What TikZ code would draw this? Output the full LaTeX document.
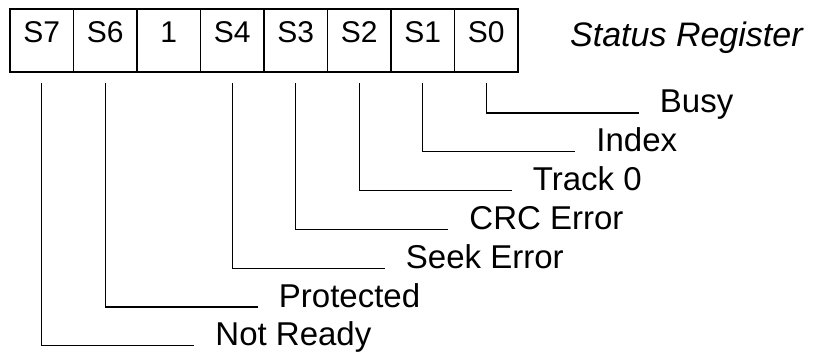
\documentclass[tikz,border=0pt]{standalone}
\usepackage{fontspec}
\setmainfont{Liberation Sans}
\tikzset{
  bitcell/.style={draw, line width=1.3pt, inner sep=0pt, minimum width=63.5pt,
    text height=34pt, text depth=29pt, anchor=base,
    font=\fontsize{30}{30}\selectfont},
  flaglabel/.style={inner sep=0pt, anchor=base west, font=\fontsize{33}{33}\selectfont},
  lead/.style={line width=1.3pt},
}
\begin{document}
\begin{tikzpicture}[x=1pt,y=-1pt]
  \useasboundingbox (0,0) rectangle (818,352);
  % register cells
  \node[bitcell] (s7) at (41.75,43) {S7};
  \node[bitcell] (s6) at (105.25,43) {S6};
  \node[bitcell] (b5) at (168.75,43) {1};
  \node[bitcell] (s4) at (232.25,43) {S4};
  \node[bitcell] (s3) at (295.75,43) {S3};
  \node[bitcell] (s2) at (359.25,43) {S2};
  \node[bitcell] (s1) at (422.75,43) {S1};
  \node[bitcell] (s0) at (486.25,43) {S0};
  \node[flaglabel, font=\fontsize{34}{34}\selectfont\itshape] (title) at (570,47) {Status Register};
  % flag names
  \node[flaglabel] (busy) at (659.75,113) {Busy};
  \node[flaglabel] (index) at (596.25,151.8) {Index};
  \node[flaglabel] (track) at (532.75,190.6) {Track 0};
  \node[flaglabel] (crc) at (469.25,229.4) {CRC Error};
  \node[flaglabel] (seek) at (405.75,268.2) {Seek Error};
  \node[flaglabel] (prot) at (278.75,307) {Protected};
  \node[flaglabel] (ready) at (215.25,345.8) {Not Ready};
  % leads
  \draw[lead] ([yshift=-10pt]s0.south) |- ([xshift=-21pt]busy.base west);
  \draw[lead] ([yshift=-10pt]s1.south) |- ([xshift=-21pt]index.base west);
  \draw[lead] ([yshift=-10pt]s2.south) |- ([xshift=-21pt]track.base west);
  \draw[lead] ([yshift=-10pt]s3.south) |- ([xshift=-21pt]crc.base west);
  \draw[lead] ([yshift=-10pt]s4.south) |- ([xshift=-21pt]seek.base west);
  \draw[lead] ([yshift=-10pt]s6.south) |- ([xshift=-21pt]prot.base west);
  \draw[lead] ([yshift=-10pt]s7.south) |- ([xshift=-21pt]ready.base west);
\end{tikzpicture}
\end{document}
